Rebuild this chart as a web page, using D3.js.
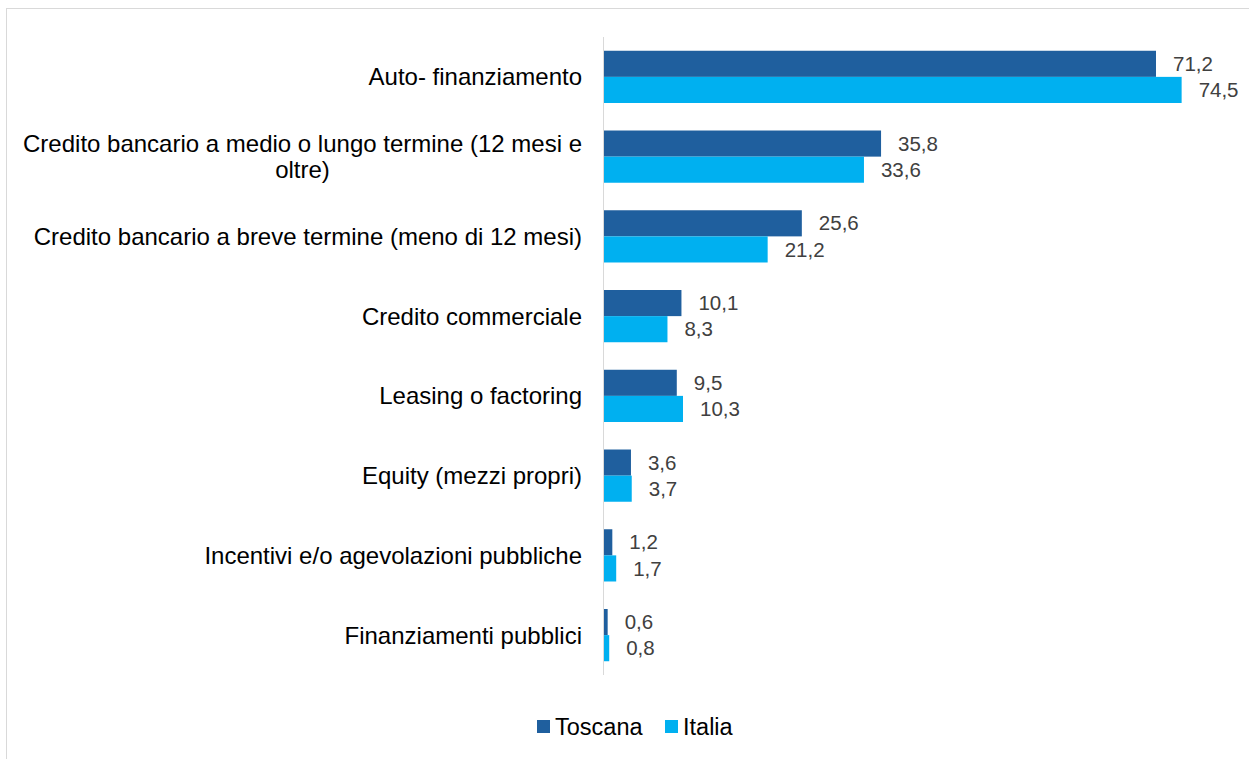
<!DOCTYPE html>
<html>
<head>
<meta charset="utf-8">
<script src="https://cdn.jsdelivr.net/npm/d3@7"></script>
<style>
  body { margin: 0; background: #fff; }
  svg { display: block; font-family: "Liberation Sans", Arial, sans-serif; }
</style>
</head>
<body>
<script>
// data
var categories = [
  "Auto- finanziamento",
  "Credito bancario a medio o lungo termine (12 mesi e|oltre)",
  "Credito bancario a breve termine (meno di 12 mesi)",
  "Credito commerciale",
  "Leasing o factoring",
  "Equity (mezzi propri)",
  "Incentivi e/o agevolazioni pubbliche",
  "Finanziamenti pubblici"
];
var toscana = [71.2, 35.8, 25.6, 10.1, 9.5, 3.6, 1.2, 0.6];
var italia = [74.5, 33.6, 21.2, 8.3, 10.3, 3.7, 1.7, 0.8];
var seriesNames = ["Toscana", "Italia"];
var seriesColors = ["#1F5F9E", "#00B0F0"];

var width = 1249, height = 759;
var x0 = 603, plotTop = 37, plotBottom = 675;

var svg = d3.select("body").append("svg")
  .attr("width", width)
  .attr("height", height);

// outer frame
svg.append("rect")
  .attr("x", 6.5).attr("y", 8.5)
  .attr("width", width).attr("height", height)
  .attr("fill", "none")
  .attr("stroke", "#d9d9d9")
  .attr("stroke-width", 1);

var x = d3.scaleLinear().domain([0, 71.2]).range([x0, 1156]);

var y = d3.scaleBand()
  .domain(d3.range(categories.length))
  .range([plotTop, plotBottom])
  .paddingInner(0.345)
  .paddingOuter(0.1725);

var ySub = d3.scaleBand().domain([0, 1]).range([0, y.bandwidth()]);

var series = [toscana, italia];

series.forEach(function(vals, s) {
  var g = svg.append("g");
  g.selectAll("rect")
    .data(vals)
    .enter()
    .append("rect")
    .attr("x", x(0))
    .attr("y", function(d, i) { return y(i) + ySub(s); })
    .attr("width", function(d) { return x(d) - x(0); })
    .attr("height", ySub.bandwidth())
    .attr("fill", seriesColors[s]);

  g.selectAll("text")
    .data(vals)
    .enter()
    .append("text")
    .attr("x", function(d) { return x(d) + 17; })
    .attr("y", function(d, i) { return y(i) + ySub(s) + ySub.bandwidth() / 2; })
    .attr("dy", "0.35em")
    .attr("font-size", "20.5px")
    .attr("fill", "#404040")
    .text(function(d) { return d3.format(".1f")(d).replace(".", ","); });
});

// vertical axis line
svg.append("line")
  .attr("x1", x0 + 0.5).attr("x2", x0 + 0.5)
  .attr("y1", plotTop).attr("y2", plotBottom)
  .attr("stroke", "#d9d9d9")
  .attr("stroke-width", 1);

// category labels
var labelRight = 582;
categories.forEach(function(c, i) {
  var lines = c.split("|");
  var cy = y(i) + y.bandwidth() / 2;
  var lh = 26;
  var t = svg.append("text")
    .attr("font-size", "24px")
    .attr("fill", "#000");
  if (lines.length == 1) {
    t.attr("x", labelRight).attr("y", cy).attr("dy", "0.35em")
      .attr("text-anchor", "end").text(c);
  } else {
    // wrapped labels: lines centered inside a right-aligned block
    var spans = lines.map(function(l, k) {
      return t.append("tspan")
        .attr("y", cy - lh * (lines.length - 1) / 2 + k * lh)
        .attr("dy", "0.35em")
        .attr("text-anchor", "middle")
        .text(l);
    });
    var maxW = d3.max(spans, function(sp) { return sp.node().getComputedTextLength(); });
    spans.forEach(function(sp) { sp.attr("x", labelRight - maxW / 2); });
  }
});

// legend
var legend = svg.append("g").attr("font-size", "23.5px");
var lx = [537, 665];
seriesNames.forEach(function(n, s) {
  legend.append("rect")
    .attr("x", lx[s]).attr("y", 720)
    .attr("width", 13).attr("height", 13)
    .attr("fill", seriesColors[s]);
  legend.append("text")
    .attr("x", lx[s] + 18).attr("y", 727)
    .attr("dy", "0.35em")
    .attr("fill", "#000")
    .text(n);
});
</script>
</body>
</html>
